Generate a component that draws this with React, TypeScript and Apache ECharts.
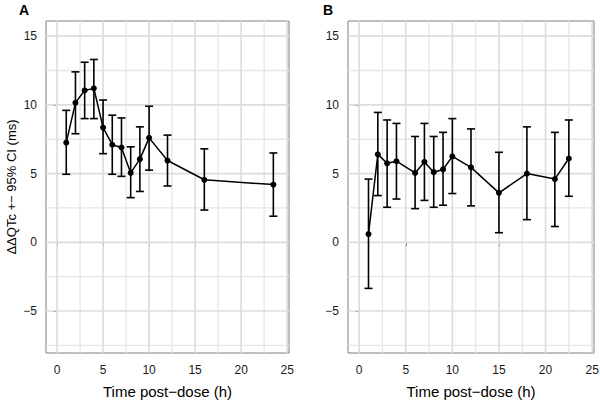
import React, { useEffect, useRef } from "react";
import * as echarts from "echarts";

const timeA = [1, 2, 3, 4, 5, 6, 7, 8, 9, 10, 12, 16, 23.5];
const meanA = [7.25, 10.15, 11.05, 11.2, 8.35, 7.1, 6.9, 5.05, 6.05, 7.6, 5.95, 4.55, 4.2];
const lowA = [4.95, 7.9, 9.0, 9.0, 6.45, 4.95, 4.8, 3.25, 3.7, 5.25, 4.1, 2.35, 1.9];
const highA = [9.6, 12.4, 13.1, 13.3, 10.35, 9.25, 9.05, 6.95, 8.4, 9.9, 7.8, 6.8, 6.5];

const timeB = [1, 2, 3, 4, 6, 7, 8, 9, 10, 12, 15, 18, 21, 22.5];
const meanB = [0.6, 6.4, 5.75, 5.9, 5.05, 5.85, 5.1, 5.3, 6.25, 5.45, 3.6, 5.0, 4.6, 6.1];
const lowB = [-3.35, 3.4, 2.55, 3.15, 2.45, 3.05, 2.55, 2.7, 3.55, 2.65, 0.7, 1.65, 1.15, 3.35];
const highB = [4.6, 9.45, 8.9, 8.65, 7.7, 8.65, 7.7, 8.0, 9.0, 8.25, 6.55, 8.4, 8.0, 8.9];

const xTicks = [0, 5, 10, 15, 20, 25];
const xMinor = [2.5, 7.5, 12.5, 17.5, 22.5];
const yTicks = [-5, 0, 5, 10, 15];
const yMinor = [-7.5, -2.5, 2.5, 7.5, 12.5];

const X_MIN = -1.2;
const X_MAX = 25.2;
const Y_MIN = -8.05;
const Y_MAX = 16.1;

const FONT = "Liberation Sans, Arial, sans-serif";

export default function App() {
  const ref = useRef<HTMLDivElement>(null);

  useEffect(() => {
    if (!ref.current) return;
    const chart = echarts.init(ref.current, null, { renderer: "svg" });

    const gridLineSeries = (idx: number, vals: number[], dir: "x" | "y", color: string, width: number) => ({
      type: "custom",
      xAxisIndex: idx,
      yAxisIndex: idx,
      silent: true,
      clip: false,
      z: 1,
      data: vals.map((v) => (dir === "x" ? [v, 0] : [0, v])),
      renderItem: (_params: any, api: any) => {
        let p1: number[];
        let p2: number[];
        if (dir === "x") {
          const v = api.value(0);
          p1 = api.coord([v, Y_MIN]);
          p2 = api.coord([v, Y_MAX]);
        } else {
          const v = api.value(1);
          p1 = api.coord([X_MIN, v]);
          p2 = api.coord([X_MAX, v]);
        }
        return {
          type: "line",
          shape: { x1: p1[0], y1: p1[1], x2: p2[0], y2: p2[1] },
          style: { stroke: color, lineWidth: width, fill: null },
        };
      },
    });

    const errorSeries = (idx: number, t: number[], lo: number[], hi: number[]) => ({
      type: "custom",
      xAxisIndex: idx,
      yAxisIndex: idx,
      silent: true,
      z: 2,
      data: t.map((x, i) => [x, lo[i], hi[i]]),
      renderItem: (_params: any, api: any) => {
        const x = api.value(0);
        const pLo = api.coord([x, api.value(1)]);
        const pHi = api.coord([x, api.value(2)]);
        const hw = 4;
        const st = { stroke: "#000", lineWidth: 1.6 };
        return {
          type: "group",
          children: [
            { type: "line", shape: { x1: pLo[0], y1: pLo[1], x2: pHi[0], y2: pHi[1] }, style: st },
            { type: "line", shape: { x1: pLo[0] - hw, y1: pLo[1], x2: pLo[0] + hw, y2: pLo[1] }, style: st },
            { type: "line", shape: { x1: pHi[0] - hw, y1: pHi[1], x2: pHi[0] + hw, y2: pHi[1] }, style: st },
          ],
        };
      },
    });

    const lineSeries = (idx: number, t: number[], m: number[]) => ({
      type: "line",
      xAxisIndex: idx,
      yAxisIndex: idx,
      z: 3,
      data: t.map((x, i) => [x, m[i]]),
      symbol: "circle",
      symbolSize: 6,
      itemStyle: { color: "#000" },
      lineStyle: { color: "#000", width: 1.5 },
      silent: true,
    });

    const xAxis = (idx: number) => ({
      type: "value",
      gridIndex: idx,
      min: X_MIN,
      max: X_MAX,
      axisLine: { show: false },
      splitLine: { show: false },
      axisTick: { show: true, length: 4, customValues: xTicks, lineStyle: { color: "#333", width: 1 } },
      axisLabel: { customValues: xTicks, color: "#1a1a1a", fontSize: 12, fontFamily: FONT, margin: 11 },
      name: "Time post\u2212dose (h)",
      nameLocation: "middle",
      nameGap: 31,
      nameTextStyle: { color: "#000", fontSize: 15, fontFamily: FONT },
    });

    const yAxis = (idx: number) => ({
      type: "value",
      gridIndex: idx,
      min: Y_MIN,
      max: Y_MAX,
      axisLine: { show: false },
      splitLine: { show: false },
      axisTick: { show: true, length: 4, customValues: yTicks, lineStyle: { color: "#333", width: 1 } },
      axisLabel: {
        customValues: yTicks,
        color: "#1a1a1a",
        fontSize: 12,
        fontFamily: FONT,
        margin: 9,
        formatter: (v: number) => (v < 0 ? "\u2212" + Math.abs(v) : String(v)),
      },
      ...(idx === 0
        ? {
            name: "\u0394\u0394QTc +\u2212 95% CI (ms)",
            nameLocation: "middle",
            nameGap: 28,
            nameTextStyle: { color: "#000", fontSize: 13, fontFamily: FONT },
          }
        : {}),
    });

    const gridStyle = { show: true, borderColor: "#7f7f7f", borderWidth: 1, outerBoundsMode: "none", containLabel: false };

    chart.setOption({
      animation: false,
      backgroundColor: "#fff",
      grid: [
        { left: 46, top: 21, width: 243, height: 332, ...gridStyle },
        { left: 348, top: 21, width: 246, height: 332, ...gridStyle },
      ],
      xAxis: [xAxis(0), xAxis(1)],
      yAxis: [yAxis(0), yAxis(1)],
      graphic: [
        { type: "text", left: 19, top: 3, style: { text: "A", fontSize: 14, fontWeight: "bold", fontFamily: FONT, fill: "#000" } },
        { type: "text", left: 323, top: 3, style: { text: "B", fontSize: 14, fontWeight: "bold", fontFamily: FONT, fill: "#000" } },
      ],
      series: [
        gridLineSeries(0, xMinor, "x", "#e6e6e6", 1.3),
        gridLineSeries(0, yMinor, "y", "#e6e6e6", 1.3),
        gridLineSeries(0, xTicks, "x", "#dcdcdc", 1.6),
        gridLineSeries(0, yTicks, "y", "#dcdcdc", 1.6),
        gridLineSeries(1, xMinor, "x", "#e6e6e6", 1.3),
        gridLineSeries(1, yMinor, "y", "#e6e6e6", 1.3),
        gridLineSeries(1, xTicks, "x", "#dcdcdc", 1.6),
        gridLineSeries(1, yTicks, "y", "#dcdcdc", 1.6),
        errorSeries(0, timeA, lowA, highA),
        errorSeries(1, timeB, lowB, highB),
        lineSeries(0, timeA, meanA),
        lineSeries(1, timeB, meanB),
      ],
    });

    return () => chart.dispose();
  }, []);

  return <div ref={ref} style={{ width: 600, height: 400, position: "absolute", left: 0, top: 0 }} />;
}
